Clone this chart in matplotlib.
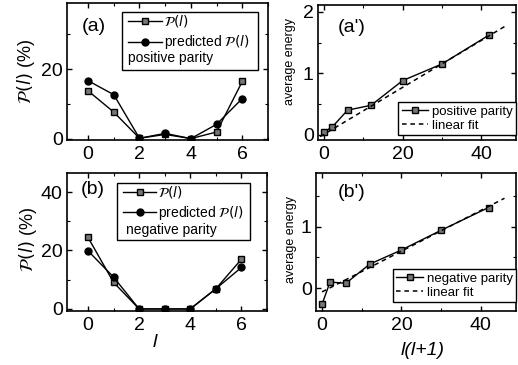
import matplotlib
matplotlib.use('Agg')
import matplotlib.pyplot as plt
from matplotlib.patches import Rectangle
from matplotlib.ticker import MultipleLocator

plt.rcParams['font.family'] = ['Liberation Sans', 'DejaVu Sans']
plt.rcParams['mathtext.fontset'] = 'dejavusans'

# ---- data ----
l_vals = [0, 1, 2, 3, 4, 5, 6]
pos_P = [13.8, 7.7, 0.2, 1.3, 0.1, 2.0, 16.5]
pos_pred = [16.7, 12.7, 0.2, 1.6, 0.1, 4.2, 11.6]
neg_P = [24.5, 9.1, 0.0, 0.0, 0.0, 6.9, 17.0]
neg_pred = [19.9, 10.9, 0.0, 0.0, 0.0, 6.9, 14.2]

ll1 = [0, 2, 6, 12, 20, 30, 42]
pos_E = [0.05, 0.12, 0.40, 0.48, 0.88, 1.15, 1.62]
neg_E = [-0.26, 0.10, 0.08, 0.39, 0.62, 0.94, 1.31]
pos_fit_x = [-1, 46]
pos_fit_y = [-0.03, 1.76]
neg_fit_x = [0, 46]
neg_fit_y = [-0.06, 1.46]

PLAB = r'$\mathcal{P}(l)$'

fig = plt.figure(figsize=(5.18, 3.65), dpi=100)
W, H = 518, 365

def add_ax(x0, y0, x1, y1):
    return fig.add_axes([x0 / W, 1 - y1 / H, (x1 - x0) / W, (y1 - y0) / H])

axA = add_ax(67, 3, 268, 140)
axB = add_ax(67, 173, 267, 311)
axA2 = add_ax(318, 5, 516, 140)
axB2 = add_ax(316, 173, 516, 311)

sq = dict(marker='s', markersize=5, markerfacecolor='#777777', markeredgecolor='black',
          color='black', linewidth=1.0)
ci = dict(marker='o', markersize=5, markerfacecolor='black', markeredgecolor='black',
          color='black', linewidth=1.0)

def style(ax):
    for s in ax.spines.values():
        s.set_linewidth(1.2)
    ax.tick_params(which='both', direction='in', top=True, right=True, labelsize=14)
    ax.tick_params(which='major', length=3.5, width=1)
    ax.tick_params(which='minor', length=2, width=0.8)
    ax.tick_params(axis='x', pad=4)
    ax.tick_params(axis='y', pad=3)

# ---- (a), (b) ----
for ax, P, Pp, lab, ylim, ptxt, par in [
        (axA, pos_P, pos_pred, '(a)', (-0.3, 39), 'positive parity',
         dict(box=(0.274, 0.511, 0.676, 0.423), leg=(0.305, 0.925), txt=(0.303, 0.60), plab=(0.134, 0.83))),
        (axB, neg_P, neg_pred, '(b)', (-0.7, 46.5), 'negative parity',
         dict(box=(0.25, 0.514, 0.665, 0.414), leg=(0.28, 0.92), txt=(0.295, 0.587), plab=(0.13, 0.877)))]:
    h1, = ax.plot(l_vals, P, **sq)
    h2, = ax.plot(l_vals, Pp, **ci)
    ax.set_xlim(-0.82, 7.0)
    ax.set_ylim(*ylim)
    ax.xaxis.set_major_locator(MultipleLocator(2))
    ax.xaxis.set_minor_locator(MultipleLocator(1))
    ax.yaxis.set_major_locator(MultipleLocator(20))
    ax.yaxis.set_minor_locator(MultipleLocator(10))
    style(ax)
    ax.set_ylabel(PLAB + ' (%)', fontsize=13)
    bx = par['box']
    ax.add_patch(Rectangle((bx[0], bx[1]), bx[2], bx[3], transform=ax.transAxes,
                           fill=False, edgecolor='black', linewidth=1.0, zorder=5))
    ax.legend([h1, h2], [PLAB, 'predicted ' + PLAB], loc='upper left',
              bbox_to_anchor=par['leg'], frameon=False, fontsize=10, handlelength=2.4,
              handletextpad=0.15, borderpad=0, borderaxespad=0, labelspacing=0.3)
    ax.text(par['txt'][0], par['txt'][1], ptxt, transform=ax.transAxes, fontsize=10,
            ha='left', va='center')
    ax.text(par['plab'][0], par['plab'][1], lab, transform=ax.transAxes, fontsize=14,
            ha='center', va='center')

axA.yaxis.set_label_coords(-0.148, 0.5)
axB.yaxis.set_label_coords(-0.14, 0.52)
axB.set_xlabel('l', fontsize=14, fontstyle='italic')
axB.xaxis.set_label_coords(0.44, -0.17)

# ---- (a'), (b') ----
for ax, E, fx, fy, lab, ylim, name, plab, yl in [
        (axA2, pos_E, pos_fit_x, pos_fit_y, "(a')", (-0.085, 2.11), 'positive parity',
         (0.172, 0.837), (-0.112, 0.585)),
        (axB2, neg_E, neg_fit_x, neg_fit_y, "(b')", (-0.37, 1.87), 'negative parity',
         (0.18, 0.862), (-0.097, 0.52))]:
    h1, = ax.plot(ll1, E, **sq)
    h2, = ax.plot(fx, fy, color='black', linestyle=(0, (3, 2.5)), linewidth=1.1)
    ax.set_xlim(-1.53, 48.9)
    ax.set_ylim(*ylim)
    ax.xaxis.set_major_locator(MultipleLocator(20))
    ax.xaxis.set_minor_locator(MultipleLocator(10))
    ax.yaxis.set_major_locator(MultipleLocator(1))
    ax.yaxis.set_minor_locator(MultipleLocator(0.5))
    style(ax)
    ax.set_ylabel('average energy', fontsize=9)
    ax.yaxis.set_label_coords(*yl)
    leg = ax.legend([h1, h2], [name, 'linear fit'], loc='lower right',
                    bbox_to_anchor=(1.0, 0.035 if ax is axA2 else 0.065),
                    fontsize=9.5, handlelength=2.0, handletextpad=0.3, borderpad=0.25,
                    borderaxespad=0, labelspacing=0.15, fancybox=False, framealpha=1)
    leg.get_frame().set_edgecolor('black')
    leg.get_frame().set_linewidth(1.0)
    ax.text(plab[0], plab[1], lab, transform=ax.transAxes, fontsize=14,
            ha='center', va='center')

axB2.set_xlabel('l(l+1)', fontsize=14, fontstyle='italic')
axB2.xaxis.set_label_coords(0.535, -0.225)

fig.savefig('out.png', dpi=100)
